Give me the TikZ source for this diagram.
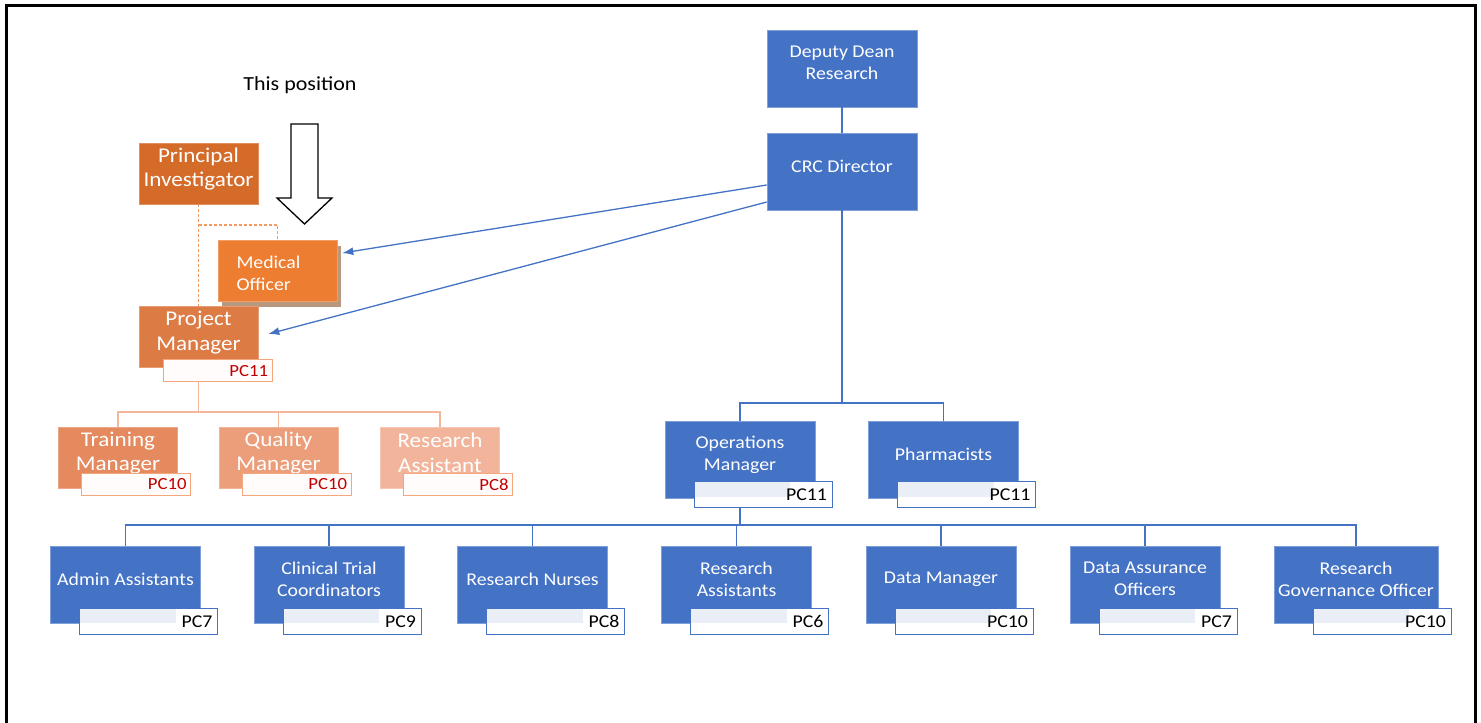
\documentclass[tikz,border=0pt]{standalone}
\usepackage{fontspec}
\setmainfont[FakeStretch=1.1]{Carlito}
\usetikzlibrary{arrows.meta,shadows}

\definecolor{crcblue}{HTML}{4472C4}
\definecolor{crcedge}{HTML}{7F9FD8}
\definecolor{pclight}{HTML}{E9EEF7}
\definecolor{piorange}{HTML}{D56B29}
\definecolor{pmorange}{HTML}{DD7B45}
\definecolor{moorange}{HTML}{ED7D31}
\definecolor{tmorange}{HTML}{E58A5E}
\definecolor{qmorange}{HTML}{EC9D7A}
\definecolor{raorange}{HTML}{F2B49B}
\definecolor{orangeline}{HTML}{F4B69A}
\definecolor{dashorange}{HTML}{F29A62}
\definecolor{pcorange}{HTML}{F4A77C}
\definecolor{pcred}{HTML}{C00000}
\definecolor{moshadow}{HTML}{B8987F}

\newcommand{\boxfont}{\fontsize{18}{22}\selectfont}
\newcommand{\bigboxfont}{\fontsize{21}{24.5}\selectfont}

\tikzset{
	bluebox/.style={rectangle, fill=crcblue, draw=crcedge, line width=0.6pt,
		minimum width=150pt, minimum height=77pt, inner sep=0pt},
	btext/.style={text=white, align=center, font=\boxfont, yshift=5.5pt},
	orangebox/.style={rectangle, fill=#1, draw=#1!75!white, line width=0.6pt,
		minimum width=119pt, minimum height=61pt, inner sep=0pt},
	otext/.style={text=white, align=center, font=\bigboxfont, yshift=4.5pt},
	pcbox/.style={rectangle, draw=crcblue, line width=1pt, fill=white,
		minimum width=138pt, minimum height=26pt, text width=128pt,
		inner xsep=5pt, inner ysep=0pt, align=right, text=black, font=\boxfont,
		path picture={\fill[pclight] (path picture bounding box.north west)
			rectangle ([xshift=-42pt,yshift=-2pt]path picture bounding box.east);}},
	opcbox/.style={rectangle, draw=pcorange, line width=0.8pt, fill=white!97!pcorange,
		minimum width=109pt, minimum height=22pt, text width=101pt,
		inner xsep=4pt, inner ysep=0pt, align=right, text=pcred,
		font=\fontsize{17}{20}\selectfont},
	blueline/.style={draw=crcblue, line width=1.6pt},
	orangeline/.style={draw=orangeline, line width=1.2pt},
	dashline/.style={draw=dashorange, line width=1.1pt, dash pattern=on 3pt off 2pt}
}

\begin{document}
\begin{tikzpicture}[x=1pt, y=-1pt]
\useasboundingbox (0,0) rectangle (1481,723);

% frame
\draw[line width=3pt] (6,723) -- (6,5) -- (1475,5) -- (1475,723);

% ---- blue part ----
\node[bluebox, label={[btext]center:{Deputy Dean\\Research}}] (dean) at (842,68.5) {};
\node[bluebox, label={[btext]center:{CRC Director}}] (crc) at (842,171.5) {};
\node[bluebox, label={[btext]center:{Operations\\Manager}}] (ops) at (740,460) {};
\node[bluebox, label={[btext]center:{Pharmacists}}] (pharm) at (943.5,460) {};

\node[bluebox, label={[btext]center:{Admin Assistants}}] (admin) at (125.5,584.5) {};
\node[bluebox, label={[btext]center:{Clinical Trial\\Coordinators}}] (ctc) at (329,584.5) {};
\node[bluebox, label={[btext]center:{Research Nurses}}] (nurses) at (532.5,584.5) {};
\node[bluebox, label={[btext]center:{Research\\Assistants}}] (rassist) at (736.5,584.5) {};
\node[bluebox, label={[btext]center:{Data Manager}}] (datamgr) at (941,584.5) {};
\node[bluebox, label={[btext]center:{Data Assurance\\Officers}}] (dao) at (1145,584.5) {};
\node[bluebox, minimum width=164pt,
	label={[btext]center:{Research\\Governance Officer}}] (rgo) at (1356,584.5) {};

\coordinate (crcbus) at (842,403);
\coordinate (opsbus) at (740,525);
\draw[blueline] (dean.south) -- (crc.north);
\draw[blueline] (crc.south) -- (crcbus);
\draw[blueline] (crcbus) -| (ops.north);
\draw[blueline] (crcbus) -| (pharm.north);
\draw[blueline] (ops.south) -- (opsbus);
\foreach \n in {admin,ctc,nurses,rassist,datamgr,dao,rgo}{
	\draw[blueline] (opsbus) -| (\n.north);
}

\node[pcbox] (opsPC) at ([xshift=23pt,yshift=4pt]ops.south) {PC11};
\node[pcbox] (pharmPC) at ([xshift=23pt,yshift=4pt]pharm.south) {PC11};
\node[pcbox] (adminPC) at ([xshift=23pt,yshift=2pt]admin.south) {PC7};
\node[pcbox] (ctcPC) at ([xshift=23pt,yshift=2pt]ctc.south) {PC9};
\node[pcbox] (nursesPC) at ([xshift=23pt,yshift=2pt]nurses.south) {PC8};
\node[pcbox] (rassistPC) at ([xshift=23pt,yshift=2pt]rassist.south) {PC6};
\node[pcbox] (datamgrPC) at ([xshift=23pt,yshift=2pt]datamgr.south) {PC10};
\node[pcbox] (daoPC) at ([xshift=23pt,yshift=2pt]dao.south) {PC7};
\node[pcbox] (rgoPC) at ([xshift=26pt,yshift=2pt]rgo.south) {PC10};

% ---- orange part ----
\coordinate (pibranch) at (198.5,225);
\coordinate (pmbus) at (198.5,412);
\draw[dashline] (198.5,204) -- (198.5,307);
\draw[dashline] (pibranch) -| (277.5,241);

\node[orangebox=piorange, label={[otext]center:{Principal\\Investigator}}] (pi) at (198.5,173.5) {};
\node[orangebox=moorange, drop shadow={shadow xshift=4pt, shadow yshift=-5pt,
	fill=moshadow, opacity=1},
	label={[otext, font=\boxfont, xshift=-9pt, yshift=-6.5pt, align=left]center:{Medical\\Officer}}]
	(mo) at (277.5,271) {};
\node[orangebox=pmorange, label={[otext]center:{Project\\Manager}}] (pm) at (198.5,337) {};

\node[orangebox=tmorange, label={[otext]center:{Training\\Manager}}] (train) at (118,457.5) {};
\node[orangebox=qmorange, label={[otext]center:{Quality\\Manager}}] (quality) at (278.5,457.5) {};
\node[orangebox=raorange, label={[otext]center:{Research\\Assistant}}] (rasst) at (440,457.5) {};

\draw[orangeline] (pm.south) -- (pmbus);
\foreach \n in {train,quality,rasst}{
	\draw[orangeline] (pmbus) -| (\n.north);
}

\node[opcbox] (pmPC) at ([xshift=19pt,yshift=-3pt]pm.south) {PC11};
\node[opcbox] (trainPC) at ([xshift=18pt,yshift=4pt]train.south) {PC10};
\node[opcbox] (qualityPC) at ([xshift=18pt,yshift=4pt]quality.south) {PC10};
\node[opcbox] (rasstPC) at ([xshift=18pt,yshift=4pt]rasst.south) {PC8};

% arrows from the director
\draw[blueline, line width=1.3pt, -{Latex[length=11pt,width=8pt]}]
	([yshift=-13.5pt]crc.west) -- ([xshift=5pt,yshift=18pt]mo.east);
\draw[blueline, line width=1.3pt, -{Latex[length=11pt,width=8pt]}]
	([yshift=-30.5pt]crc.west) -- ([xshift=10pt,yshift=3pt]pm.east);

% this position
\node[font=\fontsize{20}{24}\selectfont] (thispos) at (300,85) {This position};
\draw[line width=1.3pt, fill=white] (291,124) -- (318,124) -- (318,198) -- (332,198)
	-- (304.5,224) -- (277,198) -- (291,198) -- cycle;
\end{tikzpicture}
\end{document}
